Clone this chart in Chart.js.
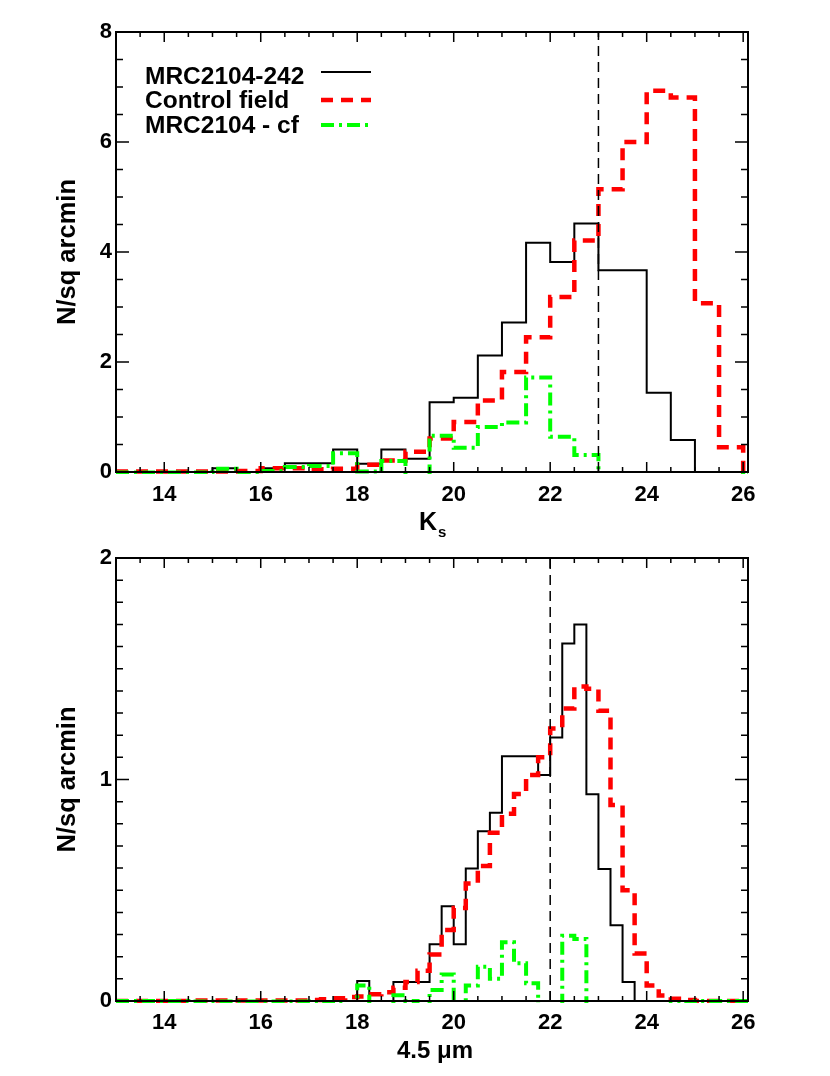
<!DOCTYPE html>
<html>
<head>
<meta charset="utf-8">
<script src="https://cdn.jsdelivr.net/npm/chart.js@4.4.1/dist/chart.umd.min.js"></script>
<style>
  html, body { margin: 0; padding: 0; background: #fff; }
  canvas { display: block; }
</style>
</head>
<body>
<canvas id="ksChart" width="830" height="540"></canvas>
<canvas id="irChart" width="830" height="536"></canvas>
<script>
// ---- data: Ks panel, 0.5 mag bins starting at 13 ----
var ksStart = 13, ksWidth = 0.5;
var ksRadio   = [0, 0, 0, 0, 0.07, 0, 0.07, 0.16, 0.16, 0.41, 0.15, 0.41, 0.24, 1.27, 1.35, 2.12, 2.72, 4.17, 3.82, 4.52, 3.67, 3.67, 1.44, 0.58, 0, 0, 0];
var ksControl = [0.01, 0.01, 0.01, 0.01, 0.01, 0.02, 0.07, 0.07, 0.05, 0.06, 0.13, 0.21, 0.37, 0.61, 0.91, 1.30, 1.82, 2.45, 3.18, 4.21, 5.14, 6.00, 6.93, 6.81, 3.07, 0.45, 0];
var ksDiff    = [-0.01, -0.01, -0.01, -0.01, 0.06, -0.02, 0.02, 0.09, 0.11, 0.34, 0.01, 0.20, -0.13, 0.66, 0.44, 0.82, 0.90, 1.72, 0.64, 0.31, -1.47, -2.33, -5.49, -6.23, -3.07, -0.45, 0];
var ksCut = 23;

// ---- data: 4.5 micron panel, 0.25 mag bins starting at 13 ----
var irStart = 13, irWidth = 0.25;
var irRadio = [0, 0, 0, 0, 0, 0, 0, 0, 0, 0, 0, 0, 0, 0, 0, 0, 0, 0, 0, 0,
  0.09, 0, 0, 0.086, 0.086, 0.086, 0.256, 0.428, 0.256, 0.598, 0.766, 0.85,
  1.105, 1.105, 1.105, 1.02, 1.19, 1.614, 1.70, 0.933, 0.596, 0.342, 0.086,
  0, 0, 0, 0, 0, 0, 0, 0, 0, 0];
var irControl = [0, 0, 0, 0, 0, 0, 0.002, 0.002, 0.002, 0.002, 0.002, 0.002, 0.002, 0.002, 0.002, 0.002,
  0.005, 0.008, 0.012, 0.018, 0.02, 0.03, 0.04, 0.06, 0.086, 0.137, 0.21, 0.32,
  0.42, 0.53, 0.61, 0.76, 0.845, 0.935, 1.02, 1.10, 1.23, 1.32, 1.42, 1.41,
  1.31, 0.885, 0.50, 0.215, 0.07, 0.025, 0.01, 0.005, 0, 0, 0, 0, 0];
var irDiff = [0, 0, 0, 0, 0, 0, -0.002, -0.002, -0.002, -0.002, -0.002, -0.002, -0.002, -0.002, -0.002, -0.002,
  -0.005, -0.008, -0.012, -0.018, 0.07, -0.03, -0.04, 0.026, 0, -0.05, 0.05, 0.12,
  -0.16, 0.07, 0.155, 0.10, 0.265, 0.17, 0.08, -0.08, -0.04, 0.295, 0.28, -0.48,
  -0.71, -0.54, -0.41, -0.215, -0.07, -0.025, -0.01, -0.005, 0, 0, 0, 0, 0];
var irCut = 22;

var seriesNames = ['MRC2104-242', 'Control field', 'MRC2104 - cf'];
var xTicks = [14, 16, 18, 20, 22, 24, 26];
var ksYTicks = [0, 2, 4, 6, 8];
var irYTicks = [0, 1, 2];

var FONT = "'Liberation Sans', Arial, Helvetica, sans-serif";
Chart.defaults.font.family = FONT;
Chart.defaults.color = '#000';

// bin i covers [start + i*width, start + (i+1)*width]; with stepped 'after'
// the segment ending at point i+1 is drawn at that point's value
function stepPoints(start, width, vals) {
  var pts = [{x: start, y: vals[0]}];
  for (var i = 0; i < vals.length; i++) pts.push({x: start + (i + 1) * width, y: vals[i]});
  return pts;
}

var histClip = {left: 0, right: 0, top: 0, bottom: 2};

function datasets(start, width, radio, control, diff, cut, ymax) {
  return [
    {label: 'cut', data: [{x: cut, y: 0}, {x: cut, y: ymax}], borderColor: '#000', borderWidth: 1.5,
      borderDash: [10, 6], pointRadius: 0, order: 0, clip: 0},
    {label: seriesNames[2], data: stepPoints(start, width, diff), borderColor: '#00ff00', borderWidth: 4,
      borderDash: [13, 5, 3, 5], stepped: 'after', pointRadius: 0, order: 1, clip: histClip},
    {label: seriesNames[1], data: stepPoints(start, width, control), borderColor: '#ff0000', borderWidth: 4.5,
      borderDash: [12, 8], stepped: 'after', pointRadius: 0, order: 2, clip: histClip},
    {label: seriesNames[0], data: stepPoints(start, width, radio), borderColor: '#000', borderWidth: 2,
      stepped: 'after', pointRadius: 0, order: 3, clip: histClip}
  ];
}

// box frame with inward ticks on all four sides
var framePlugin = {
  id: 'frame',
  afterDraw: function(chart, args, o) {
    var ctx = chart.ctx, a = chart.chartArea, xs = chart.scales.x, ys = chart.scales.y;
    ctx.save();
    ctx.strokeStyle = '#000';
    ctx.setLineDash([]);
    ctx.lineWidth = 1.5;
    ctx.beginPath();
    var n = Math.round((26 - 13) / 0.5);
    for (var k = 0; k <= n; k++) {
      var v = 13 + k * 0.5;
      var px = xs.getPixelForValue(v);
      var len = (Math.round(v * 10) % 20 === 0) ? 10 : 5;
      ctx.moveTo(px, a.bottom); ctx.lineTo(px, a.bottom - len);
      ctx.moveTo(px, a.top); ctx.lineTo(px, a.top + len);
    }
    var m = Math.round(ys.max / o.yMinor);
    for (var j = 0; j <= m; j++) {
      var yv = j * o.yMinor;
      var py = ys.getPixelForValue(yv);
      var ylen = (j % o.yPerMajor === 0) ? 13 : 7;
      ctx.moveTo(a.left, py); ctx.lineTo(a.left + ylen, py);
      ctx.moveTo(a.right, py); ctx.lineTo(a.right - ylen, py);
    }
    ctx.stroke();
    ctx.lineWidth = 2;
    ctx.strokeRect(a.left, a.top, a.right - a.left, a.bottom - a.top);

    // x axis title
    ctx.fillStyle = '#000';
    ctx.textAlign = 'center';
    ctx.textBaseline = 'alphabetic';
    var cx = (a.left + a.right) / 2;
    if (o.sub) {
      ctx.font = 'bold 25px ' + FONT;
      var w = ctx.measureText(o.title).width;
      ctx.textAlign = 'left';
      ctx.fillText(o.title, cx - w / 2 - 4, o.titleY);
      ctx.font = 'bold 15px ' + FONT;
      ctx.fillText(o.sub, cx + w / 2 - 3, o.titleY + 7);
    } else {
      ctx.font = 'bold 24px ' + FONT;
      ctx.fillText(o.title, cx + 3, o.titleY);
    }

    // legend, text first then line sample
    if (o.legend) {
      var rows = [3, 2, 1];
      var base = [84, 108, 133], lineY = [72, 100, 125];
      ctx.font = 'bold 24.5px ' + FONT;
      ctx.textAlign = 'left';
      for (var r = 0; r < rows.length; r++) {
        var ds = chart.data.datasets[rows[r]];
        ctx.fillText(ds.label, 145, base[r]);
        ctx.strokeStyle = ds.borderColor;
        ctx.lineWidth = ds.borderWidth;
        ctx.setLineDash(ds.borderDash || []);
        ctx.beginPath();
        ctx.moveTo(321, lineY[r]); ctx.lineTo(371, lineY[r]);
        ctx.stroke();
      }
    }
    ctx.restore();
  }
};

function makeChart(id, padTop, xHeight, xPad, ymax, yTicks, dsets, frameOpts) {
  return new Chart(document.getElementById(id), {
    type: 'line',
    data: {datasets: dsets},
    plugins: [framePlugin],
    options: {
      responsive: false,
      animation: false,
      devicePixelRatio: 1,
      layout: {padding: {left: 0, right: 82, top: padTop, bottom: 0}},
      plugins: {legend: {display: false}, tooltip: {enabled: false}, frame: frameOpts},
      scales: {
        x: {
          type: 'linear', min: 13, max: 26.1,
          grid: {display: false, drawTicks: false},
          border: {display: false},
          afterBuildTicks: function(s) { s.ticks = xTicks.map(function(v) { return {value: v}; }); },
          afterFit: function(s) { s.height = xHeight; },
          ticks: {font: {size: 22, weight: 'bold'}, padding: xPad, maxRotation: 0, autoSkip: false}
        },
        y: {
          min: 0, max: ymax,
          grid: {display: false, drawTicks: false},
          border: {display: false},
          afterBuildTicks: function(s) { s.ticks = yTicks.map(function(v) { return {value: v}; }); },
          afterFit: function(s) { s.width = 116; },
          ticks: {font: {size: 22, weight: 'bold'}, padding: 4, autoSkip: false},
          title: {display: true, text: 'N/sq arcmin', font: {size: 25.5, weight: 'bold'}, padding: {top: 53, bottom: 0}}
        }
      }
    }
  });
}

makeChart('ksChart', 32, 68, 10, 8, ksYTicks,
  datasets(ksStart, ksWidth, ksRadio, ksControl, ksDiff, ksCut, 8),
  {yMinor: 0.5, yPerMajor: 4, title: 'K', sub: 's', titleY: 530, legend: true});

makeChart('irChart', 18, 75, 9, 2, irYTicks,
  datasets(irStart, irWidth, irRadio, irControl, irDiff, irCut, 2),
  {yMinor: 0.1, yPerMajor: 10, title: '4.5 \u03bcm', titleY: 518, legend: false});
</script>
</body>
</html>
